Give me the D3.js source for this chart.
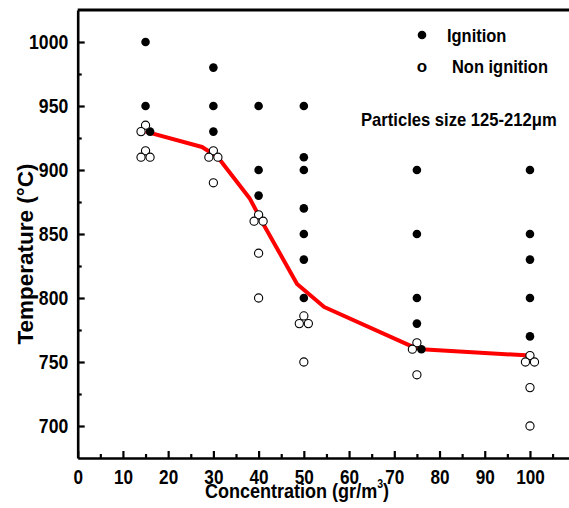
<!DOCTYPE html>
<html>
<head>
<meta charset="utf-8">
<script src="https://d3js.org/d3.v7.min.js"></script>
<style>
  body { margin: 0; background: #fff; }
  svg text { font-family: "Liberation Sans", Arial, sans-serif; font-weight: bold; fill: #000; }
</style>
</head>
<body>
<svg id="chart" width="569" height="508"></svg>
<script>
// ignition points: concentration (small offsets where markers overlap) and temperature
var ignitionConc = [15, 15, 16, 30, 30, 30, 40, 40, 40, 50, 50, 50, 50, 50, 50, 50, 75, 75, 75, 75, 76, 100, 100, 100, 100, 100];
var ignitionTemp = [1000, 950, 930, 980, 950, 930, 950, 900, 880, 950, 910, 900, 870, 850, 830, 800, 900, 850, 800, 780, 760, 900, 850, 830, 800, 770];

var nonIgnitionConc = [15, 14, 15, 14, 16, 30, 29, 31, 30, 40, 39, 41, 40, 40, 50, 49, 51, 50, 75, 74, 75, 100, 99, 101, 100, 100];
var nonIgnitionTemp = [935, 930, 915, 910, 910, 915, 910, 910, 890, 865, 860, 860, 835, 800, 786, 780, 780, 750, 765, 760, 740, 755, 750, 750, 730, 700];

// red boundary curve
var lineConc = [15, 27.5, 31, 38, 41, 48.5, 54.5, 74, 76, 100];
var lineTemp = [930, 918, 910, 878, 858, 811, 793, 762, 760, 755];

var xMajor = [0, 10, 20, 30, 40, 50, 60, 70, 80, 90, 100];
var xMinor = [5, 15, 25, 35, 45, 55, 65, 75, 85, 95, 105];
var yMajor = [700, 750, 800, 850, 900, 950, 1000];
var yMinor = [725, 775, 825, 875, 925, 975];

var svg = d3.select("#chart");

var x = d3.scaleLinear().domain([0, 110]).range([77.7, 575.2]);
var y = d3.scaleLinear().domain([675, 1025]).range([458, 10]);

// squeeze text horizontally (the original uses a condensed bold face)
function squeeze(sel, k) {
  sel.each(function () {
    var t = d3.select(this);
    var x0 = +t.attr("x") || 0;
    t.attr("x", x0 / k).attr("transform", (t.attr("transform") || "") + " scale(" + k + ",1)");
  });
}

// top frame line
svg.append("line")
  .attr("x1", x(0)).attr("x2", 569)
  .attr("y1", y(1025)).attr("y2", y(1025))
  .attr("stroke", "#000").attr("stroke-width", 3);

// x axis
var gx = svg.append("g").attr("transform", "translate(0," + y(675) + ")");
gx.call(d3.axisBottom(x).tickValues(xMajor).tickFormat(d3.format("d")).tickSize(-7).tickSizeOuter(0).tickPadding(12));
gx.append("g").call(d3.axisBottom(x).tickValues(xMinor).tickSize(-4).tickFormat("")).select(".domain").remove();
gx.selectAll("text").attr("font-size", 19.5).call(squeeze, 0.88);

// y axis
var gy = svg.append("g").attr("transform", "translate(" + x(0) + ",0)");
gy.call(d3.axisLeft(y).tickValues(yMajor).tickFormat(d3.format("d")).tickSize(-7).tickSizeOuter(0).tickPadding(9.5));
gy.append("g").call(d3.axisLeft(y).tickValues(yMinor).tickSize(-4).tickFormat("")).select(".domain").remove();
gy.selectAll("text").attr("font-size", 20).call(squeeze, 0.88);

svg.selectAll(".domain").attr("stroke-width", 2.6);
svg.selectAll(".tick line").attr("stroke-width", 2.2);

// axis titles
var xt = svg.append("text")
  .attr("x", 297).attr("y", 498)
  .attr("text-anchor", "middle")
  .attr("font-size", 20.5)
  .text("Concentration (gr/m");
xt.append("tspan").attr("font-size", 12).attr("dy", -10).text("3");
xt.append("tspan").attr("dy", 10).text(")");
squeeze(xt, 0.88);

svg.append("text")
  .attr("transform", "translate(33,254) rotate(-90)")
  .attr("text-anchor", "middle")
  .attr("font-size", 22.5)
  .text("Temperature (\u00B0C)");

// red curve
var line = d3.line().x(function (d) { return x(d[0]); }).y(function (d) { return y(d[1]); });
svg.append("path")
  .datum(d3.zip(lineConc, lineTemp))
  .attr("fill", "none")
  .attr("stroke", "#ff0000")
  .attr("stroke-width", 4)
  .attr("stroke-linejoin", "round")
  .attr("d", line);

// ignition (filled)
svg.append("g").selectAll("circle")
  .data(d3.zip(ignitionConc, ignitionTemp))
  .join("circle")
  .attr("cx", function (d) { return x(d[0]); })
  .attr("cy", function (d) { return y(d[1]); })
  .attr("r", 4.3)
  .attr("fill", "#000");

// non ignition (open)
svg.append("g").selectAll("circle")
  .data(d3.zip(nonIgnitionConc, nonIgnitionTemp))
  .join("circle")
  .attr("cx", function (d) { return x(d[0]); })
  .attr("cy", function (d) { return y(d[1]); })
  .attr("r", 4.1)
  .attr("fill", "#fff")
  .attr("stroke", "#000")
  .attr("stroke-width", 1.1);

// legend
svg.append("circle").attr("cx", 422).attr("cy", 35).attr("r", 4.3).attr("fill", "#000");
svg.append("text").attr("x", 447).attr("y", 42).attr("font-size", 18.5).text("Ignition").call(squeeze, 0.89);
svg.append("text").attr("x", 422).attr("y", 72).attr("text-anchor", "middle").attr("font-size", 17).text("o");
svg.append("text").attr("x", 452).attr("y", 73).attr("font-size", 18.5).text("Non ignition").call(squeeze, 0.89);

svg.append("text").attr("x", 361).attr("y", 126).attr("font-size", 17.5).text("Particles size 125-212\u03BCm").call(squeeze, 0.95);
</script>
</body>
</html>
